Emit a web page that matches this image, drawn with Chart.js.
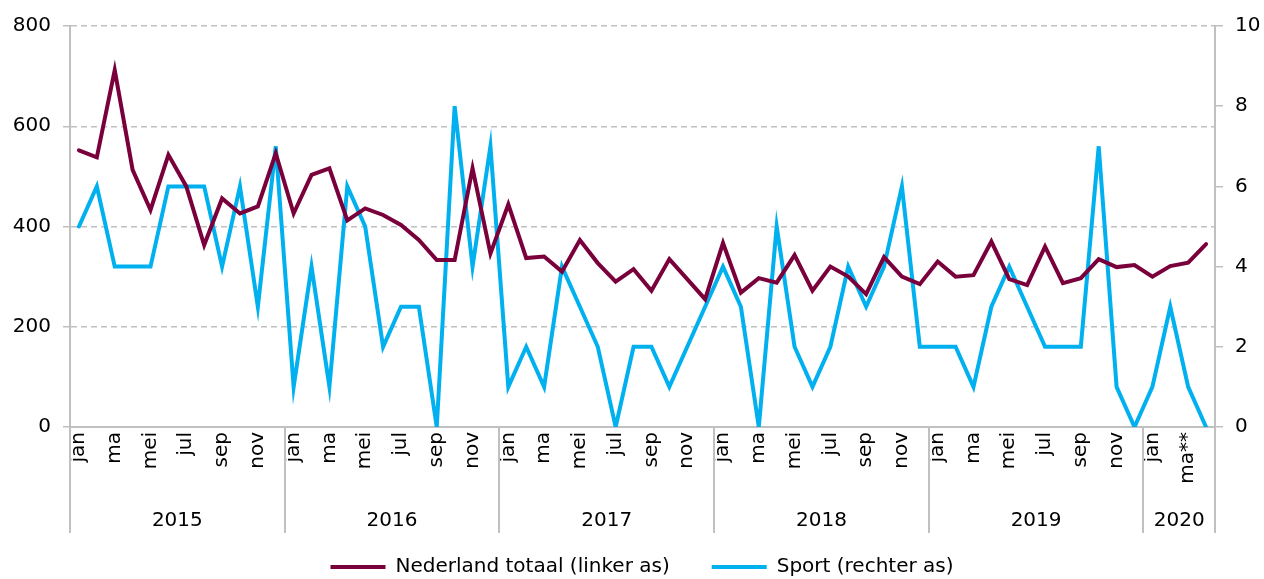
<!DOCTYPE html>
<html>
<head>
<meta charset="utf-8">
<script src="https://cdn.jsdelivr.net/npm/chart.js@4/dist/chart.umd.min.js"></script>
<style>
  html, body { margin: 0; padding: 0; background: #fff; }
  #wrap { width: 1264px; height: 579px; }
</style>
</head>
<body>
<div id="wrap"><canvas id="c" width="1264" height="579"></canvas></div>
<script>
// ---- data ----
const years = [2015, 2016, 2017, 2018, 2019, 2020];
const monthsPerYear = [12, 12, 12, 12, 12, 4];
const monthTicks = ['jan', '', 'ma', '', 'mei', '', 'jul', '', 'sep', '', 'nov', ''];
const monthTicks2020 = ['jan', '', 'ma**', ''];

const nederland = [
  552, 538, 712, 513, 433, 543, 480, 363, 456, 426, 440, 546,
  426, 503, 516, 412, 436, 423, 403, 373, 333, 333, 516, 346,
  444, 337, 340, 310, 373, 327, 290, 315, 272, 335, 295, 255,
  367, 268, 297, 288, 343, 272, 320, 300, 265, 339, 300, 285,
  330, 300, 303, 370, 295, 283, 360, 287, 297, 335, 319, 323,
  300, 321, 328, 365
];
const sport = [
  5, 6, 4, 4, 4, 6, 6, 6, 4, 6, 3, 7,
  1, 4, 1, 6, 5, 2, 3, 3, 0, 8, 4, 7,
  1, 2, 1, 4, 3, 2, 0, 2, 2, 1, 2, 3,
  4, 3, 0, 5, 2, 1, 2, 4, 3, 4, 6, 2,
  2, 2, 1, 3, 4, 3, 2, 2, 2, 7, 1, 0,
  1, 3, 1, 0
];
const leftTicks = { min: 0, max: 800, step: 200 };
const rightTicks = { min: 0, max: 10, step: 2 };

// categories and tick texts built from the arrays above
const categories = [];
const tickTexts = [];
years.forEach((y, yi) => {
  for (let m = 0; m < monthsPerYear[yi]; m++) {
    categories.push(y + '-' + (m + 1));
    tickTexts.push(y === 2020 ? monthTicks2020[m] : monthTicks[m]);
  }
});

const FONT = 'DejaVu Sans';
const GRID = '#c0c0c0';
Chart.defaults.font.family = FONT;
Chart.defaults.font.size = 20;
Chart.defaults.color = '#000';

const yearPlugin = {
  id: 'yearPlugin',
  afterLayout(chart) {
    // nudge the legend to be centred like the reference
    if (chart.legend) { chart.legend.left += 10; chart.legend.right += 10; }
  },
  afterDraw(chart) {
    const ctx = chart.ctx;
    const xs = chart.scales.x;
    const bottom = chart.chartArea.bottom;
    ctx.save();
    ctx.strokeStyle = GRID;
    ctx.lineWidth = 2;
    let idx = 0;
    const bounds = [];
    years.forEach((y, yi) => {
      const first = idx, last = idx + monthsPerYear[yi] - 1;
      const half = (xs.getPixelForValue(1) - xs.getPixelForValue(0)) / 2;
      const left = xs.getPixelForValue(first) - half;
      const right = xs.getPixelForValue(last) + half;
      bounds.push(left);
      if (yi === years.length - 1) bounds.push(right);
      ctx.fillStyle = '#000';
      ctx.font = '20px ' + FONT;
      ctx.textAlign = 'center';
      ctx.textBaseline = 'middle';
      ctx.fillText(String(y), (left + right) / 2, bottom + 94);
      idx += monthsPerYear[yi];
    });
    bounds.forEach(bx => {
      ctx.beginPath();
      ctx.moveTo(Math.round(bx), bottom);
      ctx.lineTo(Math.round(bx), bottom + 106);
      ctx.stroke();
    });
    ctx.restore();
  }
};

new Chart(document.getElementById('c'), {
  type: 'line',
  data: {
    labels: categories,
    datasets: [
      {
        label: 'Nederland totaal (linker as)',
        data: nederland,
        yAxisID: 'y',
        borderColor: '#7a003c',
        backgroundColor: '#7a003c',
        borderWidth: 4,
        borderCapStyle: 'round',
        pointRadius: 0,
        pointHoverRadius: 0,
        tension: 0
      },
      {
        label: 'Sport (rechter as)',
        data: sport,
        yAxisID: 'y1',
        borderColor: '#00b0ef',
        backgroundColor: '#00b0ef',
        borderWidth: 4,
        borderCapStyle: 'round',
        pointRadius: 0,
        pointHoverRadius: 0,
        tension: 0
      }
    ]
  },
  options: {
    responsive: false,
    animation: false,
    devicePixelRatio: 1,
    layout: { padding: { left: 0, right: 0, top: 26, bottom: 0 } },
    plugins: {
      tooltip: { enabled: false },
      legend: {
        position: 'bottom',
        maxHeight: 64,
        labels: {
          usePointStyle: true,
          pointStyle: 'line',
          pointStyleWidth: 55,
          padding: 42,
          font: { size: 20, family: FONT },
          color: '#000'
        }
      }
    },
    scales: {
      x: {
        type: 'category',
        offset: true,
        grid: { display: true, drawOnChartArea: false, drawTicks: false },
        border: { display: true, color: GRID, width: 2 },
        ticks: {
          autoSkip: false,
          maxRotation: 90,
          minRotation: 90,
          padding: 5,
          font: { size: 20, family: FONT },
          callback: (v, i) => tickTexts[i]
        },
        afterFit(s) { s.height = 88; }
      },
      y: {
        position: 'left',
        min: leftTicks.min,
        max: leftTicks.max,
        ticks: { stepSize: leftTicks.step, padding: 12, font: { size: 20, family: FONT } },
        grid: { color: GRID, lineWidth: 1.5, tickLength: 7, tickColor: GRID, tickWidth: 1.5 },
        border: { display: true, color: GRID, width: 2, dash: [6, 4] },
        afterFit(s) { s.width = 70; }
      },
      y1: {
        position: 'right',
        min: rightTicks.min,
        max: rightTicks.max,
        ticks: { stepSize: rightTicks.step, padding: 12, font: { size: 20, family: FONT } },
        grid: { drawOnChartArea: false, tickLength: 8, tickColor: GRID, lineWidth: 1.5 },
        border: { display: true, color: GRID, width: 2 },
        afterFit(s) { s.width = 49; }
      }
    }
  },
  plugins: [yearPlugin]
});
</script>
</body>
</html>
